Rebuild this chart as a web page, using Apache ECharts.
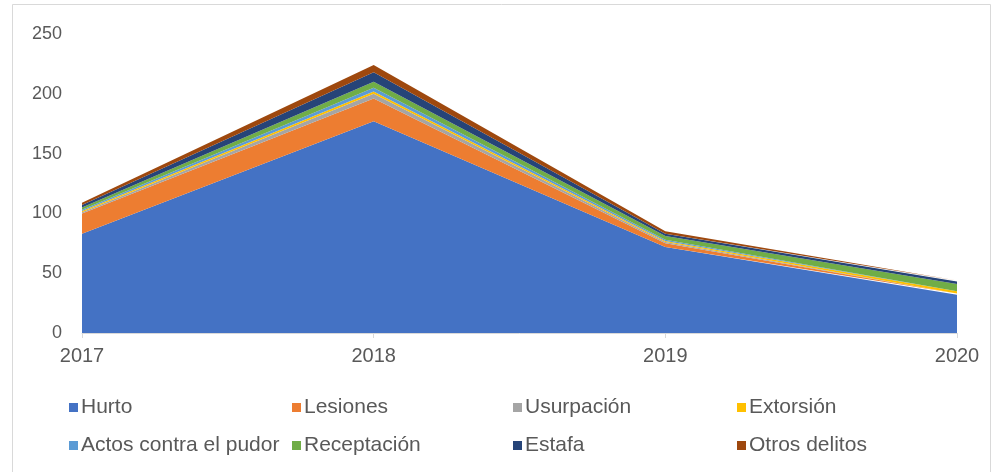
<!DOCTYPE html>
<html>
<head>
<meta charset="utf-8">
<script src="https://cdn.jsdelivr.net/npm/echarts@6/dist/echarts.min.js"></script>
<style>
  html, body { margin: 0; padding: 0; background: #fff; }
  #chart { width: 997px; height: 472px; }
</style>
</head>
<body>
<div id="chart"></div>
<script>
// Years on the category axis
const years = ['2017', '2018', '2019', '2020'];

// Stacked counts per offence type
const hurto = [83, 177, 72, 32];
const lesiones = [17, 19, 3, 1];
const usurpacion = [1, 4, 1, 0];
const extorsion = [1, 2, 1, 2];
const actosPudor = [1, 3, 1, 0];
const receptacion = [2, 5, 3, 6];
const estafa = [2, 8, 2, 2];
const otrosDelitos = [2, 6, 2, 1];

const yTicks = [0, 50, 100, 150, 200, 250];

const seriesDefs = [
  { name: 'Hurto', data: hurto, color: '#4472C4' },
  { name: 'Lesiones', data: lesiones, color: '#ED7D31' },
  { name: 'Usurpación', data: usurpacion, color: '#A5A5A5' },
  { name: 'Extorsión', data: extorsion, color: '#FFC000' },
  { name: 'Actos contra el pudor', data: actosPudor, color: '#5B9BD5' },
  { name: 'Receptación', data: receptacion, color: '#70AD47' },
  { name: 'Estafa', data: estafa, color: '#264478' },
  { name: 'Otros delitos', data: otrosDelitos, color: '#9E480E' }
];

const font = 'Liberation Sans, Arial, sans-serif';
const textColor = '#595959';

// One legend block per entry so the entries sit on a fixed 4-column grid
const legendCols = [69, 292, 513, 737];
const legendRows = [397, 435];
const legends = seriesDefs.map((s, i) => ({
  data: [s.name],
  left: legendCols[i % 4],
  top: legendRows[Math.floor(i / 4)],
  itemWidth: 9,
  itemHeight: 9,
  itemGap: 0,
  padding: 0,
  icon: 'rect',
  selectedMode: false,
  textStyle: { fontFamily: font, fontSize: 21, color: textColor, padding: [0, 0, 0, -2] }
}));

const chart = echarts.init(document.getElementById('chart'));
chart.setOption({
  animation: false,
  backgroundColor: '#fff',
  graphic: [{
    type: 'rect',
    shape: { x: 12.5, y: 4.5, width: 978, height: 470 },
    style: { fill: 'none', stroke: '#d9d9d9', lineWidth: 1 },
    silent: true
  }],
  legend: legends,
  grid: { left: 82, right: 40, top: 34, bottom: 139 },
  xAxis: {
    type: 'category',
    data: years,
    boundaryGap: false,
    axisLine: { lineStyle: { color: '#d9d9d9' } },
    axisTick: { show: true, length: 5, lineStyle: { color: '#d9d9d9' } },
    axisLabel: { fontFamily: font, fontSize: 20, color: textColor, margin: 13 }
  },
  yAxis: {
    type: 'value',
    min: yTicks[0],
    max: yTicks[yTicks.length - 1],
    interval: 50,
    splitLine: { show: false },
    axisLine: { show: false },
    axisTick: { show: false },
    axisLabel: { fontFamily: font, fontSize: 18, color: textColor, margin: 20 }
  },
  series: seriesDefs.map(s => ({
    name: s.name,
    type: 'line',
    stack: 'total',
    data: s.data,
    showSymbol: false,
    symbol: 'none',
    lineStyle: { width: 0 },
    areaStyle: { color: s.color, opacity: 1 },
    itemStyle: { color: s.color }
  }))
});
</script>
</body>
</html>
